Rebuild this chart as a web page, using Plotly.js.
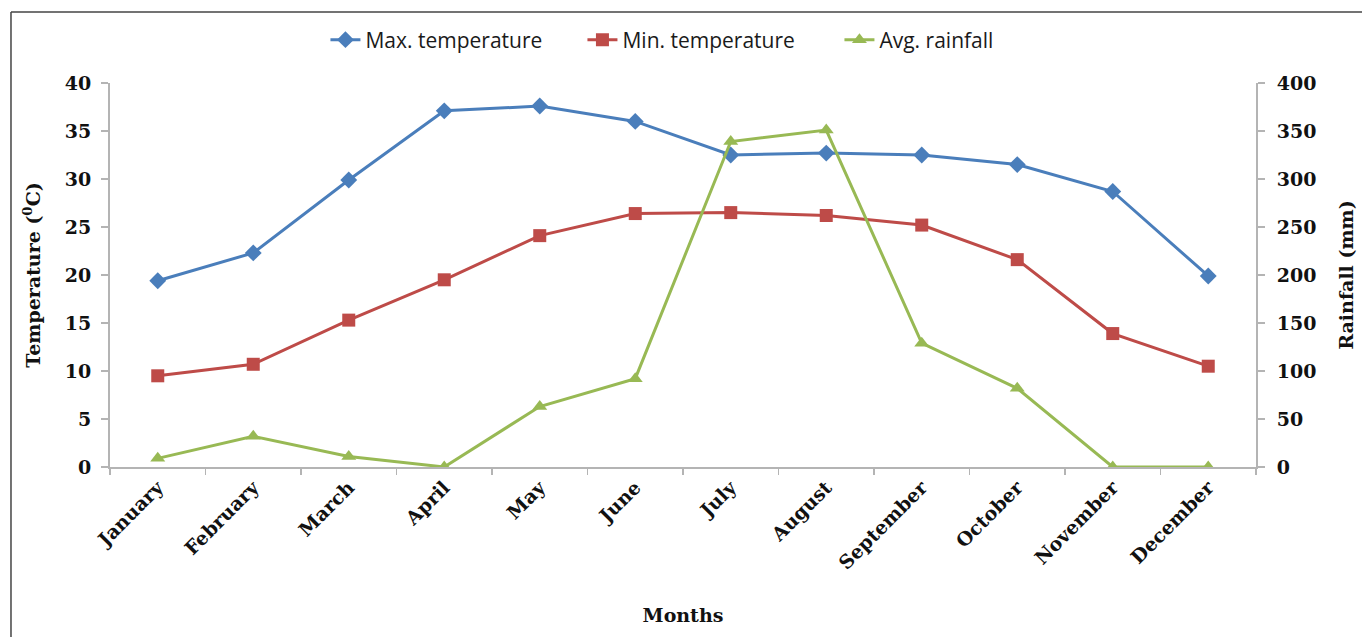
<!DOCTYPE html>
<html>
<head>
<meta charset="utf-8">
<script src="https://cdn.plot.ly/plotly-3.0.1.min.js"></script>
<style>
  html, body { margin: 0; padding: 0; background: #ffffff; }
  #chart { width: 1362px; height: 637px; }
</style>
</head>
<body>
<div id="chart"></div>
<script>
// ---- data ----
const months = ["January", "February", "March", "April", "May", "June",
                "July", "August", "September", "October", "November", "December"];
const maxTemp = [19.4, 22.3, 29.9, 37.1, 37.6, 36.0, 32.5, 32.7, 32.5, 31.5, 28.7, 19.9];
const minTemp = [9.5, 10.7, 15.3, 19.5, 24.1, 26.4, 26.5, 26.2, 25.2, 21.6, 13.9, 10.5];
const rainfall = [9, 32, 11, 0, 63, 92, 339, 351, 129, 82, 0, 0];

const seriesNames = ["Max. temperature", "Min. temperature", "Avg. rainfall"];
const tempTicks = [0, 5, 10, 15, 20, 25, 30, 35, 40];
const rainTicks = [0, 50, 100, 150, 200, 250, 300, 350, 400];

const serif = "DejaVu Serif, Liberation Serif, serif";
const axisGray = "#b4b4b4";

const traces = [
  {
    x: months, y: maxTemp, name: seriesNames[0], type: "scatter", mode: "lines+markers",
    line: { color: "#4a7ebb", width: 3 },
    marker: { symbol: "diamond", size: 13, color: "#4a7ebb" },
    xaxis: "x", yaxis: "y"
  },
  {
    x: months, y: minTemp, name: seriesNames[1], type: "scatter", mode: "lines+markers",
    line: { color: "#be4b48", width: 3 },
    marker: { symbol: "square", size: 13, color: "#be4b48" },
    xaxis: "x", yaxis: "y"
  },
  {
    x: months, y: rainfall, name: seriesNames[2], type: "scatter", mode: "lines+markers",
    line: { color: "#98b954", width: 3 },
    marker: { symbol: "triangle-up", size: 13, color: "#98b954" },
    xaxis: "x", yaxis: "y2"
  }
];

const layout = {
  width: 1362, height: 637,
  paper_bgcolor: "#ffffff", plot_bgcolor: "#ffffff",
  margin: { l: 110, r: 106, t: 83, b: 170, pad: 0 },
  showlegend: true,
  legend: {
    orientation: "h", x: 0.188, xanchor: "left", y: 1.112, yanchor: "middle",
    font: { family: "Open Sans, sans-serif", size: 21, color: "#1a1a1a" },
    entrywidth: 212, entrywidthmode: "pixels",
    bgcolor: "rgba(0,0,0,0)"
  },
  xaxis: {
    type: "category", range: [-0.5, 11.5], autorange: false,
    tickmode: "array", tickvals: months, ticktext: months,
    tickson: "boundaries", ticks: "outside", ticklen: 6, tickcolor: axisGray, tickwidth: 1.5,
    showline: true, linecolor: axisGray, linewidth: 2, showgrid: false, zeroline: false,
    tickangle: -45,
    tickfont: { family: serif, size: 19, color: "#111", weight: "bold" },
    title: { text: "Months", font: { family: serif, size: 19, color: "#111", weight: "bold" }, standoff: 36 },
    automargin: false
  },
  yaxis: {
    range: [0, 40], tickmode: "array", tickvals: tempTicks, ticktext: tempTicks.map(String),
    ticks: "outside", ticklen: 7, tickcolor: axisGray, tickwidth: 1.5,
    showline: true, linecolor: axisGray, linewidth: 2, showgrid: false, zeroline: false,
    tickfont: { family: serif, size: 19, color: "#111", weight: "bold" },
    ticklabelstandoff: 6,
    title: { text: "Temperature (<sup>0</sup>C)", font: { family: serif, size: 19, color: "#111", weight: "bold" }, standoff: 19 },
    automargin: false
  },
  yaxis2: {
    overlaying: "y", side: "right",
    range: [0, 400], tickmode: "array", tickvals: rainTicks, ticktext: rainTicks.map(String),
    ticks: "outside", ticklen: 7, tickcolor: axisGray, tickwidth: 1.5,
    showline: true, linecolor: axisGray, linewidth: 2, showgrid: false, zeroline: false,
    tickfont: { family: serif, size: 19, color: "#111", weight: "bold" },
    ticklabelstandoff: 8,
    title: { text: "Rainfall (mm)", font: { family: serif, size: 19, color: "#111", weight: "bold" }, standoff: 24 },
    automargin: false
  },
  shapes: [
    { type: "line", xref: "paper", yref: "paper", x0: -0.0864, x1: -0.0864, y0: 1.185, y1: -0.5,
      line: { color: "#444", width: 1.5 } },
    { type: "line", xref: "paper", yref: "paper", x0: -0.0864, x1: 1.1, y0: 1.185, y1: 1.185,
      line: { color: "#444", width: 1.5 } }
  ]
};

Plotly.newPlot("chart", traces, layout, { displayModeBar: false, staticPlot: true });
</script>
</body>
</html>
